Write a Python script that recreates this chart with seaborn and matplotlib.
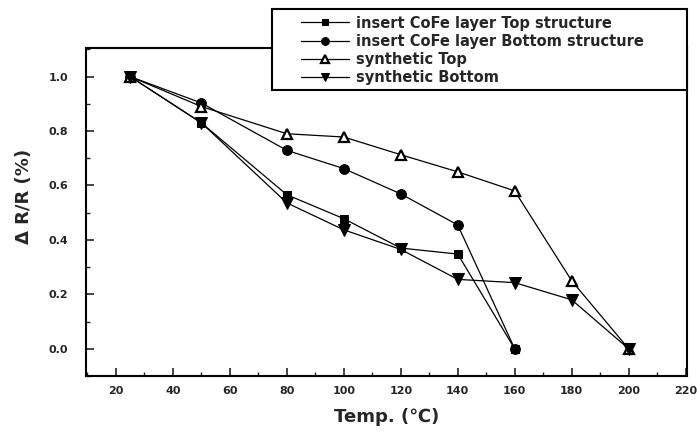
import pandas as pd
import matplotlib
matplotlib.use("Agg")
import matplotlib.pyplot as plt
from matplotlib.patches import Rectangle
from matplotlib.ticker import MultipleLocator
import seaborn as sns

# Data
temp_top = [25, 50, 80, 100, 120, 140, 160]
cofe_top = [1.0, 0.83, 0.566, 0.478, 0.37, 0.348, 0.0]

temp_bottom = [25, 50, 80, 100, 120, 140, 160]
cofe_bottom = [1.0, 0.903, 0.729, 0.662, 0.569, 0.455, 0.0]

temp_syn = [25, 50, 80, 100, 120, 140, 160, 180, 200]
syn_top = [1.0, 0.89, 0.79, 0.778, 0.713, 0.65, 0.58, 0.25, 0.0]
syn_bottom = [1.0, 0.83, 0.536, 0.437, 0.365, 0.255, 0.243, 0.18, 0.0]

labels = ["insert CoFe layer Top structure",
          "insert CoFe layer Bottom structure",
          "synthetic Top",
          "synthetic Bottom"]

sns.set_style("ticks")
plt.rcParams['font.family'] = ['DejaVu Sans']

fig = plt.figure(figsize=(6.97, 4.34), dpi=100)
ax = fig.add_axes([0.1234, 0.1336, 0.8623, 0.7558])

series = [
    (temp_top, cofe_top, labels[0], dict(marker='s', markersize=6)),
    (temp_bottom, cofe_bottom, labels[1], dict(marker='o', markersize=7)),
    (temp_syn, syn_top, labels[2], dict(marker='^', markersize=7, markerfacecolor='white',
                                        markeredgewidth=1.6)),
    (temp_syn, syn_bottom, labels[3], dict(marker='v', markersize=8)),
]
for xs, ys, lab, style in series:
    sns.lineplot(x=xs, y=ys, ax=ax, color='black', linewidth=0.9, label=lab,
                 markeredgecolor='black', **style)

ax.set_xlim(9.5, 220.5)
ax.set_ylim(-0.1, 1.105)
ax.xaxis.set_major_locator(MultipleLocator(20))
ax.xaxis.set_minor_locator(MultipleLocator(10))
ax.yaxis.set_minor_locator(MultipleLocator(0.1))
ax.set_yticks([0.0, 0.2, 0.4, 0.6, 0.8, 1.0])
ax.set_yticklabels(["0.0", "0.2", "0.4", "0.6", "0.8", "1.0"])

ax.tick_params(axis='both', which='major', direction='in', length=6, width=1.2,
               labelsize=8, top=False, right=False)
ax.tick_params(axis='both', which='minor', direction='in', length=3, width=1.0,
               top=False, right=False)
ax.tick_params(axis='x', which='major', pad=7)
ax.tick_params(axis='y', which='major', pad=13)
for t in ax.get_xticklabels() + ax.get_yticklabels():
    t.set_fontweight('bold')

for sp in ax.spines.values():
    sp.set_linewidth(1.5)
    sp.set_color('black')

ax.set_xlabel("Temp. (℃)", fontsize=13, fontweight='bold', labelpad=9)
ax.set_ylabel("Δ R/R (%)", fontsize=13, fontweight='bold')
ax.yaxis.set_label_coords(-0.088, 0.546)

# legend box sticking out above the axes
box = Rectangle((0.3095, 0.872), 0.6905, 0.247, transform=ax.transAxes,
                facecolor='white', edgecolor='black', linewidth=1.5,
                clip_on=False, zorder=4)
ax.add_patch(box)
leg = ax.legend(loc='upper left', bbox_to_anchor=(0.357, 1.099), frameon=False,
                prop={'weight': 'bold', 'size': 10.5}, markerscale=0.8,
                handlelength=3.3, handletextpad=0.5, labelspacing=0.22,
                borderpad=0, borderaxespad=0)
leg.set_zorder(5)

fig.savefig("out.png", dpi=100)
